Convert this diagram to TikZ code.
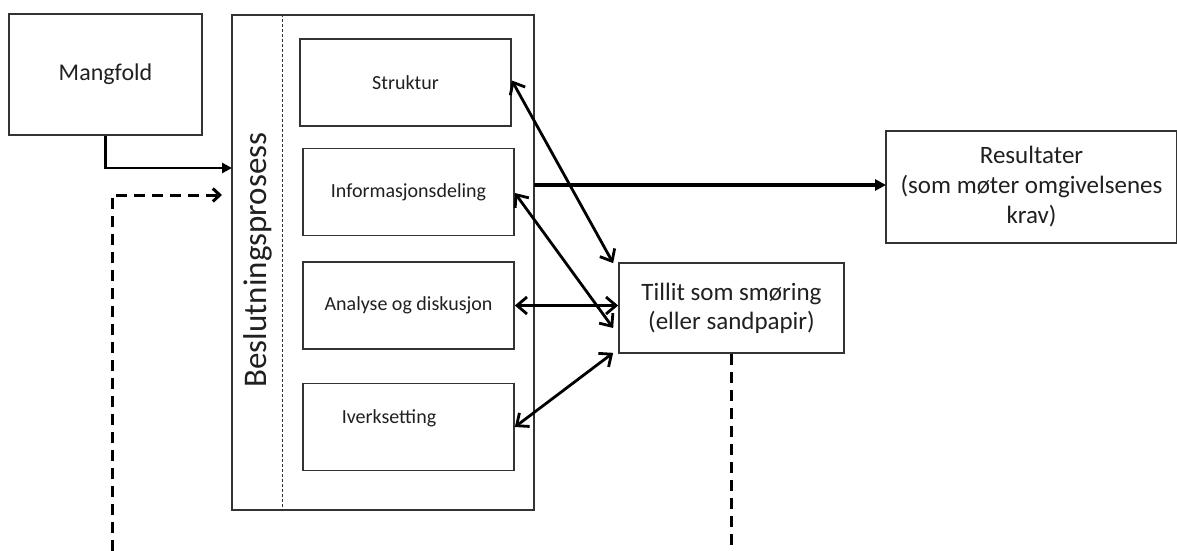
\documentclass[tikz,border=0pt]{standalone}
\usepackage{fontspec}
\setmainfont{Carlito}
\usetikzlibrary{arrows.meta,calc}
\definecolor{boxline}{HTML}{333333}
\definecolor{txt}{HTML}{202020}
\tikzset{
  box/.style={draw=boxline, line width=1.7pt, fill=white, inner sep=0pt, text=txt, align=center},
  inner/.style={box, minimum width=211pt, minimum height=87pt, font=\fontsize{20}{24}\selectfont},
  dbl/.style={line width=2.8pt, {Straight Barb[length=10pt,width=17pt,line width=2.8pt]}-{Straight Barb[length=10pt,width=17pt,line width=2.8pt]}},
  fb/.style={line width=3pt, dash pattern=on 11pt off 7pt},
}
\begin{document}
\begin{tikzpicture}[x=1pt,y=-1pt]
\useasboundingbox (0,0) rectangle (1177,551);
% big box
\node[box, minimum width=302pt, minimum height=495pt] (big) at (383,262.5) {};
\draw[boxline, line width=1.2pt, dash pattern=on 3pt off 2pt] (big.north west) ++(51,0) coordinate (dtop) -- (dtop |- big.south) coordinate (dbot);
\node[text=txt, rotate=90, font=\fontsize{33}{36}\selectfont] (besl) at (258,260) {Beslutningsprosess};
% inner boxes
\node[inner] (strukt) at (405.5,82.5) {Struktur};
\node[inner] (info) at (408.5,192) {Informasjonsdeling};
\node[inner] (anal) at (408.5,305.5) {Analyse og diskusjon};
\node[inner] (iverk) at (408.5,427) {};
\node[text=txt, font=\fontsize{20}{24}\selectfont] (iverkt) at (389,418) {Iverksetting};
% other boxes
\node[box, minimum width=193pt, minimum height=121pt, font=\fontsize{24}{28}\selectfont] (mang) at (105.5,74.5) {Mangfold};
\node[box, minimum width=225pt, minimum height=90pt, font=\fontsize{25}{29}\selectfont] (tillit) at (731.5,308) {Tillit som smøring\\(eller sandpapir)};
\node[box, minimum width=291pt, minimum height=112pt, font=\fontsize{25}{30}\selectfont] (res) at (1031.5,187) {Resultater\\(som møter omgivelsenes\\krav)};
% coordinates
\coordinate (inA) at (232,168);
\coordinate (inB) at (222,195);
\coordinate (fbL) at (112,551);
\coordinate (fbR) at (731.5,551);
\coordinate (outA) at (534,185);
\coordinate (outB) at (886,185);
% connectors
\draw[line width=2.6pt, -{Triangle[length=10pt,width=10pt]}] (mang.south) |- (inA);
\draw[fb, -{Straight Barb[length=7pt,width=13pt,line width=3pt]}] (fbL) |- (inB);
\draw[line width=3.6pt, -{Triangle[length=11pt,width=11pt]}] (outA) -- (outB);
\draw[dbl] ([yshift=2pt]strukt.east) -- ([xshift=-5pt,yshift=-1pt]tillit.north west);
\draw[dbl] ([yshift=-1pt]info.east) -- ([xshift=-5pt,yshift=-20pt]tillit.west);
\draw[dbl] (anal.east) -- (anal.east -| tillit.west);
\draw[dbl] (iverk.east) -- ([xshift=-5pt,yshift=1pt]tillit.south west);
\draw[fb] (tillit.south) -- (fbR);
\end{tikzpicture}
\end{document}
